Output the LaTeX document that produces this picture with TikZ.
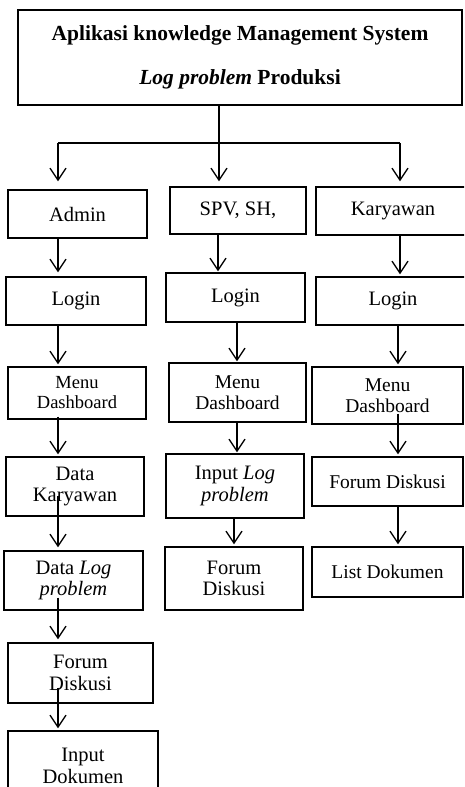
\documentclass[tikz,border=0pt]{standalone}
\usepackage{fontspec}
\setmainfont{Liberation Serif}
\usetikzlibrary{arrows.meta}

\tikzset{
  kotak/.style = {draw, line width=1.4pt, align=center, inner sep=0pt,
    font=\fontsize{20.5}{21.5}\selectfont},
  panah/.style = {line width=1.3pt, -{Straight Barb[length=12pt,width=16pt,line width=1.3pt]}, shorten >=2pt}
}

\begin{document}
\begin{tikzpicture}[x=1pt, y=-1pt]
        \clip (0,0) rectangle (464,787);
        \node [kotak, minimum width=444, minimum height=95, font=\fontsize{21.5}{44}\selectfont\bfseries] (judul) at (240,57.5) {Aplikasi knowledge Management System\\\textit{Log problem} Produksi};
        \node [kotak, minimum width=139, minimum height=48] (admin) at (77.5,214) {Admin};
        \node [kotak, minimum width=136, minimum height=47] (spv) at (238,210.5) {SPV, SH,};
        \node [kotak, minimum width=154, minimum height=48] (karyawan) at (393,211) {Karyawan};
        \node [kotak, minimum width=140, minimum height=48] (loginA) at (76,301) {Login};
        \node [kotak, minimum width=139, minimum height=49] (loginB) at (235.5,297.5) {Login};
        \node [kotak, minimum width=154, minimum height=48] (loginC) at (393,301) {Login};
        \node [kotak, minimum width=138, minimum height=52, font=\fontsize{18.5}{20}\selectfont] (menuA) at (77,393) {Menu\\Dashboard};
        \node [kotak, minimum width=137, minimum height=59, font=\fontsize{19.5}{21}\selectfont] (menuB) at (237.5,392.5) {Menu\\Dashboard};
        \node [kotak, minimum width=151, minimum height=57, font=\fontsize{19.5}{21}\selectfont] (menuC) at (387.5,395.5) {Menu\\Dashboard};
        \node [kotak, minimum width=138, minimum height=59] (dataKaryawan) at (75,486.5) {Data\\Karyawan};
        \node [kotak, minimum width=138, minimum height=64] (inputLog) at (235,486) {Input \textit{Log}\\\textit{problem}};
        \node [kotak, minimum width=151, minimum height=49, font=\fontsize{19.5}{21}\selectfont] (forumC) at (387.5,481.5) {Forum Diskusi};
        \node [kotak, minimum width=139, minimum height=59] (dataLog) at (73.5,580.5) {Data \textit{Log}\\\textit{problem}};
        \node [kotak, minimum width=138, minimum height=63] (forumB) at (234,578.5) {Forum\\Diskusi};
        \node [kotak, minimum width=151, minimum height=50, font=\fontsize{19.5}{21}\selectfont] (listDokumen) at (387.5,572) {List Dokumen};
        \node [kotak, minimum width=145, minimum height=60] (forumA) at (80.5,673) {Forum\\Diskusi};
        \node [kotak, minimum width=150, minimum height=70] (inputDokumen) at (83,766) {Input\\Dokumen};
        \coordinate (kiri) at (58,143);
        \coordinate (tengah) at (219,143);
        \coordinate (kanan) at (400,143);
        \coordinate (xb) at (218,0);
        \coordinate (xbb) at (237,0);
        \coordinate (xbc) at (234,0);
        \coordinate (xcc) at (398,0);
        \draw [line width=1.3pt] (judul.south -| tengah) -- (tengah);
        \draw [line width=1.3pt] (kiri) -- (kanan);
        \draw [panah, shorten >=8pt] (kiri) -- (admin.north -| kiri);
        \draw [panah, shorten >=5pt] (tengah) -- (spv.north -| tengah);
        \draw [panah, shorten >=5pt] (kanan) -- (karyawan.north -| kanan);
        \draw [panah, shorten >=4pt] (admin.south -| kiri) -- (loginA.north -| kiri);
        \draw [panah] (loginA.south -| kiri) -- (menuA.north -| kiri);
        \draw [panah, shorten <=-3pt] (menuA.south -| kiri) -- (dataKaryawan.north -| kiri);
        \draw [panah, shorten <=-21pt, shorten >=3pt] (dataKaryawan.south -| kiri) -- (dataLog.north -| kiri);
        \draw [panah, shorten <=-13pt, shorten >=3pt] (dataLog.south -| kiri) -- (forumA.north -| kiri);
        \draw [panah, shorten <=-16pt] (forumA.south -| kiri) -- (inputDokumen.north -| kiri);
        \draw [panah, shorten >=1pt] (spv.south -| xb) -- (loginB.north -| xb);
        \draw [panah, shorten >=1pt] (loginB.south -| xbb) -- (menuB.north -| xbb);
        \draw [panah, shorten >=1pt] (menuB.south -| xbb) -- (inputLog.north -| xbb);
        \draw [panah] (inputLog.south -| xbc) -- (forumB.north -| xbc);
        \draw [panah] (karyawan.south -| kanan) -- (loginC.north -| kanan);
        \draw [panah] (loginC.south -| xcc) -- (menuC.north -| xcc);
        \draw [panah, shorten <=-11pt] (menuC.south -| xcc) -- (forumC.north -| xcc);
        \draw [panah] (forumC.south -| xcc) -- (listDokumen.north -| xcc);
      \end{tikzpicture}
\end{document}
